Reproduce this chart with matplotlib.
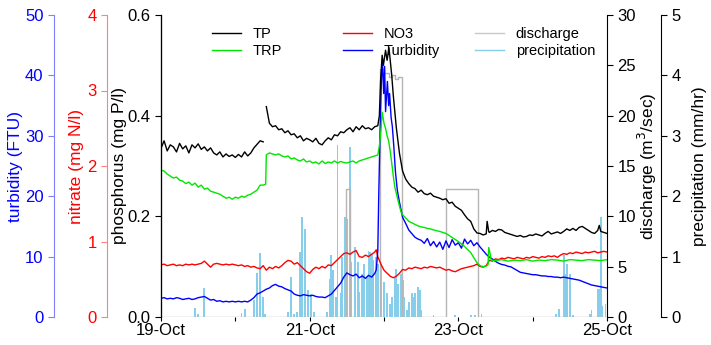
import numpy as np
import matplotlib.pyplot as plt
from matplotlib.lines import Line2D
from matplotlib.legend import Legend

plt.rcParams['font.family'] = ['Liberation Sans', 'DejaVu Sans']

# time axis: hours since 19-Oct 00:00
day_ticks = [0, 24, 48, 72, 96, 120, 144]
day_labels = ['19-Oct', '', '21-Oct', '', '23-Oct', '', '25-Oct']

# total phosphorus (mg P/l)
tp_hours = [0, 1, 2, 3, 4, 5, 6, 7, 8, 9, 10, 11, 12, 13, 14, 15, 16, 17, 18, 19,
            20, 21, 22, 23, 24, 25, 26, 27, 28, 29, 30, 31, 32, 33, 33.5,
            34, 35, 36, 37, 38, 39, 40, 41, 42, 43, 44, 45, 46, 47, 48, 49, 50,
            51, 52, 53, 54, 55, 56, 57, 58, 59, 60, 61, 62, 63, 64, 65, 66, 67,
            68, 69, 70, 70.5, 70.9, 71.4, 71.8, 72.5, 73, 73.6, 74, 74.5, 75, 76,
            77, 78, 79, 80, 81, 82, 83, 84, 85, 86, 87, 88, 89, 90, 91, 92, 93,
            94, 95, 96, 97, 98, 99, 100, 101, 102, 103, 104, 105, 105.3, 105.8,
            106, 107, 108, 109, 110, 111, 112, 113, 114, 115, 116, 117, 118, 119,
            120, 121, 122, 123, 124, 125, 126, 127, 128, 129, 130, 131, 132, 133,
            134, 135, 136, 137, 138, 139, 140, 141, 141.5, 142, 143, 144]
tp = [0.335, 0.350, 0.330, 0.342, 0.338, 0.328, 0.345, 0.334, 0.340, 0.326,
      0.342, 0.336, 0.344, 0.333, 0.338, 0.330, 0.336, 0.326, 0.322, 0.328,
      0.318, 0.324, 0.319, 0.322, 0.317, 0.323, 0.318, 0.328, 0.320, 0.326,
      0.336, 0.343, 0.350, 0.348, np.nan,
      0.418, 0.385, 0.378, 0.380, 0.372, 0.374, 0.366, 0.370, 0.362, 0.364,
      0.356, 0.360, 0.350, 0.355, 0.352, 0.348, 0.355, 0.345, 0.342, 0.350,
      0.356, 0.352, 0.362, 0.360, 0.368, 0.366, 0.372, 0.376, 0.368, 0.378,
      0.372, 0.380, 0.374, 0.376, 0.372, 0.378, 0.380, 0.400, 0.470, 0.520,
      0.500, 0.530, 0.510, 0.535, 0.510, 0.480, 0.440, 0.375, 0.325, 0.290,
      0.274, 0.265, 0.258, 0.255, 0.248, 0.252, 0.245, 0.243, 0.246, 0.240,
      0.238, 0.236, 0.233, 0.235, 0.226, 0.228, 0.220, 0.216, 0.212, 0.203,
      0.195, 0.190, 0.175, 0.167, 0.166, 0.163, 0.165, 0.190, 0.170, 0.168,
      0.172, 0.170, 0.174, 0.173, 0.168, 0.166, 0.164, 0.162, 0.160, 0.162,
      0.159, 0.160, 0.163, 0.162, 0.165, 0.163, 0.161, 0.166, 0.170, 0.165,
      0.167, 0.169, 0.166, 0.170, 0.175, 0.172, 0.176, 0.172, 0.178, 0.180,
      0.176, 0.172, 0.168, 0.166, 0.172, 0.182, 0.170, 0.168, 0.166]

# total reactive phosphorus (mg P/l)
trp_hours = [0, 1, 2, 3, 4, 5, 6, 7, 8, 9, 10, 11, 12, 13, 14, 15, 16, 17, 18,
             19, 20, 21, 22, 23, 24, 25, 26, 27, 28, 29, 30, 31, 32, 33, 33.8,
             34, 35, 36, 37, 38, 39, 40, 41, 42, 43, 44, 45, 46, 47, 48, 49, 50,
             51, 52, 53, 54, 55, 56, 57, 58, 59, 60, 61, 62, 63, 64, 65, 66, 67,
             68, 69, 70, 70.5, 71, 71.4, 72, 72.5, 73, 73.5, 74, 74.5, 75, 75.5,
             76, 76.5, 77, 77.5, 78, 79, 80, 81, 82, 83, 84, 85, 86, 87, 88, 90,
             92, 94, 96, 98, 100, 101, 102, 103, 104, 105, 105.6, 105.8, 106.3,
             106.6, 108, 110, 112, 114, 116, 118, 120, 122, 124, 126, 128, 130,
             132, 134, 136, 138, 140, 142, 144]
trp = [0.292, 0.290, 0.284, 0.280, 0.276, 0.278, 0.272, 0.270, 0.265, 0.268,
       0.262, 0.266, 0.258, 0.262, 0.254, 0.256, 0.250, 0.248, 0.246, 0.244,
       0.240, 0.236, 0.238, 0.234, 0.238, 0.236, 0.240, 0.238, 0.242, 0.244,
       0.248, 0.252, 0.262, 0.262, 0.264,
       0.322, 0.326, 0.324, 0.322, 0.324, 0.320, 0.318, 0.320, 0.314, 0.316,
       0.312, 0.310, 0.314, 0.308, 0.310, 0.306, 0.308, 0.304, 0.310, 0.305,
       0.308, 0.306, 0.310, 0.306, 0.309, 0.307, 0.306, 0.308, 0.310, 0.306,
       0.310, 0.312, 0.314, 0.316, 0.318, 0.320, 0.322, 0.340, 0.370, 0.407,
       0.385, 0.375, 0.360, 0.350, 0.330, 0.306, 0.280, 0.258, 0.245, 0.232,
       0.220, 0.209, 0.203, 0.197, 0.190, 0.187, 0.184, 0.181, 0.179, 0.178,
       0.176, 0.175, 0.173, 0.170, 0.166, 0.158, 0.150, 0.140, 0.128, 0.118,
       0.108, 0.102, 0.100, 0.101, 0.104, 0.138, 0.125, 0.113, 0.112, 0.114,
       0.111, 0.113, 0.112, 0.114, 0.111, 0.113, 0.112, 0.114, 0.113, 0.111,
       0.114, 0.113, 0.112, 0.114, 0.113, 0.112, 0.114]

# nitrate (mg N/l)
no3_hours = [0, 1, 2, 3, 4, 5, 6, 7, 8, 9, 10, 11, 12, 13, 14, 15, 16, 17, 18,
             19, 20, 21, 22, 23, 24, 25, 26, 27, 28, 29, 30, 31, 32, 33, 34, 35,
             36, 37, 38, 39, 40, 41, 42, 43, 44, 45, 46, 47, 48, 49, 50, 51, 52,
             53, 54, 55, 56, 57, 58, 59, 60, 61, 62, 63, 64, 65, 66, 67, 68, 69,
             69.5, 70, 71, 72, 73, 74, 75, 76, 77, 78, 79, 80, 81, 82, 83, 84,
             85, 86, 87, 88, 89, 90, 91, 92, 93, 94, 95, 96, 97, 98, 99, 100,
             101, 102, 103, 104, 105, 106, 107, 108, 109, 110, 111, 112, 113,
             114, 115, 116, 117, 118, 119, 120, 121, 122, 123, 124, 125, 126,
             127, 128, 129, 130, 131, 132, 133, 134, 135, 136, 137, 138, 139,
             140, 141, 142, 143, 144]
no3 = [0.69, 0.70, 0.68, 0.69, 0.70, 0.68, 0.69, 0.68, 0.70, 0.69, 0.70, 0.69,
       0.70, 0.71, 0.74, 0.70, 0.66, 0.70, 0.71, 0.70, 0.69, 0.70, 0.69, 0.70,
       0.69, 0.68, 0.69, 0.67, 0.68, 0.66, 0.67, 0.65, 0.64, 0.68, 0.62, 0.66,
       0.64, 0.67, 0.65, 0.68, 0.72, 0.75, 0.74, 0.70, 0.72, 0.68, 0.64, 0.60,
       0.58, 0.63, 0.66, 0.64, 0.67, 0.65, 0.69, 0.68, 0.72, 0.76, 0.80, 0.84,
       0.85, 0.83, 0.86, 0.88, 0.80, 0.79, 0.82, 0.80, 0.83, 0.86,
       0.89, 0.80, 0.70, 0.62, 0.58, 0.54, 0.52, 0.54, 0.58, 0.63, 0.62, 0.65,
       0.64, 0.66, 0.65, 0.64, 0.66, 0.65, 0.67, 0.66, 0.65, 0.66, 0.64, 0.62,
       0.63, 0.61, 0.60, 0.62, 0.64, 0.65, 0.66, 0.67, 0.68, 0.70, 0.67, 0.66,
       0.68, 0.75, 0.74, 0.77, 0.76, 0.78, 0.77, 0.79, 0.78, 0.77, 0.79, 0.78,
       0.77, 0.79, 0.78, 0.80, 0.79, 0.78, 0.80, 0.79, 0.81, 0.80, 0.81, 0.79,
       0.82, 0.84, 0.83, 0.85, 0.84, 0.86, 0.85, 0.84, 0.86, 0.85, 0.86, 0.87,
       0.85, 0.86, 0.87, 0.86]

# turbidity (FTU)
turb_hours = [0, 1, 2, 3, 4, 5, 6, 7, 8, 9, 10, 11, 12, 13, 14, 15, 16, 17, 18,
              19, 20, 21, 22, 23, 24, 25, 26, 27, 28, 29, 30, 31, 32, 33, 34, 35,
              36, 37, 38, 39, 40, 41, 42, 43, 44, 45, 46, 47, 48, 49, 50, 51, 52,
              53, 54, 55, 56, 57, 58, 59, 60, 61, 62, 63, 64, 65, 66, 67, 68, 69,
              69.5, 70, 70.3, 70.7, 71.2, 71.5, 71.9, 72.2, 72.5, 73.1, 73.5,
              73.8, 74.3, 74.7, 75.2, 75.7, 76.3, 77, 78, 79, 80, 81, 82, 83, 84,
              85, 86, 87, 88, 89, 90, 91, 92, 93, 94, 95, 96, 97, 98, 99, 100,
              101, 102, 103, 104, 105, 106, 107, 108, 109, 110, 111, 112, 113,
              114, 115, 116, 117, 118, 119, 120, 121, 122, 123, 124, 125, 126,
              127, 128, 129, 130, 131, 132, 133, 134, 135, 136, 137, 138, 139,
              140, 141, 142, 143, 144]
turb = [3.1, 3.2, 3.0, 3.1, 3.0, 3.2, 3.1, 2.9, 3.0, 3.1, 2.9, 3.0, 3.2, 3.3,
        3.4, 3.1, 2.8, 2.9, 2.6, 2.7, 2.5, 2.6, 2.5, 2.6, 2.5, 2.6, 2.5, 2.6,
        2.5, 2.8, 3.2, 3.8, 4.0, 4.3, 4.6, 4.8, 5.2, 5.4, 5.1, 5.0, 4.7, 4.5,
        4.3, 3.8, 3.6, 3.5, 3.7, 3.6, 3.5, 3.6, 3.4, 3.3, 3.3, 3.2, 3.5, 3.8,
        4.4, 5.0, 5.6, 6.6, 7.3, 7.0, 6.8, 7.1, 6.5, 6.8, 6.4, 6.9, 6.6, 7.2,
        7.8, 11.0, 20.0, 30.0, 40.0, 42.0, 37.0, 41.5, 34.0, 39.0, 35.0,
        37.0, 33.0, 31.5, 28.0, 24.0, 21.0, 19.0, 16.5, 15.5, 14.4, 13.8, 13.2,
        12.9, 12.7, 12.2, 13.0, 11.8, 12.5, 11.6, 12.4, 11.2, 12.6, 11.5, 12.8,
        11.9, 12.3, 11.4, 12.9, 12.1, 12.7, 11.8, 12.3, 11.6, 11.0, 10.4, 9.9,
        9.6, 9.2, 8.9, 8.7, 8.6, 8.4, 8.3, 8.0, 7.7, 7.4, 7.3, 7.2, 7.1, 7.0,
        7.0, 6.9, 6.8, 6.8, 6.7, 6.7, 6.6, 6.6, 6.5, 6.6, 6.5, 6.4, 6.3, 6.2,
        6.1, 5.9, 5.7, 5.5, 5.3, 5.2, 5.1, 5.0, 4.9, 4.8]

# discharge (m3/sec), stepwise
q_hours = [0, 59.6, 60.9, 70.6, 72.0, 73.5, 74.5, 75.5, 76.5, 77.7, 92.0, 102.4, 144]
q = [0, 12.7, 0, 24.6, 24.2, 23.8, 24.0, 23.6, 23.8, 0, 12.7, 0, 0]

# precipitation (mm/hr), non-zero records only
precip_hours = [11, 12, 14, 26, 27, 30, 31, 32, 33, 33.5,
                41, 42, 43, 44, 45, 45.5, 46.5, 47.5, 48.5, 49.5,
                53.5, 54.5, 55, 55.5, 56.5, 57, 58, 58.5, 59.5, 60, 61, 61.5,
                62.5, 63.5, 64, 65, 65.5, 66.5, 67, 67.5, 68, 68.5, 69.5, 70,
                71, 72, 73, 74, 74.5, 75.5, 76, 76.5, 77.5, 78, 78.5, 79.5, 80,
                81, 81.5, 82, 83, 83.5, 84, 88, 95, 100, 101.5, 103.5,
                127.5, 128.5, 130, 130.5, 131, 132, 133, 138.5, 139, 141,
                141.5, 142, 142.5, 143.5]
precip_mm = [0.15, 0.05, 0.48, 0.07, 0.13, 0.28, 0.73, 1.06, 0.33, 0.05,
             0.08, 0.66, 0.05, 0.08, 1.08, 1.66, 1.46, 0.44, 0.38, 0.08,
             0.08, 0.63, 1.02, 0.77, 0.33, 2.84, 0.39, 0.99, 1.66, 1.63, 2.82,
             0.91, 1.16, 0.91, 0.41, 0.72, 0.88, 0.66, 1.10, 1.08, 1.05, 0.94,
             0.99, 0.88, 0.88, 0.58, 0.40, 0.22, 0.33, 0.66, 0.80, 0.55, 0.72,
             0.61, 0.33, 0.11, 0.25, 0.39, 0.33, 0.39, 0.50, 0.44, 0.11, 0.03,
             0.03, 0.04, 0.03, 0.05, 0.05, 0.14, 1.02, 0.72, 0.88, 0.72, 0.03,
             0.05, 0.11, 0.47, 0.46, 1.66, 0.19, 0.22]

fig = plt.figure(figsize=(7.11, 3.45), dpi=100)
ax = fig.add_axes([161 / 711, 28 / 345, 446 / 711, 302 / 345])
ax_p = ax.twinx()
ax_q = ax.twinx()
ax_n = ax.twinx()
ax_t = ax.twinx()
ax_p.set_zorder(1)
ax_q.set_zorder(2)
ax_n.set_zorder(3)
ax_t.set_zorder(4)
ax.set_zorder(5)
ax.patch.set_visible(False)

ax_p.bar(precip_hours, precip_mm, width=0.6, color='skyblue', linewidth=0)
ax_q.step(q_hours, q, where='post', color='#b5b5b5', lw=1.0)
ax_n.plot(no3_hours, no3, color='red', lw=1.0)
ax_t.plot(turb_hours, turb, color='blue', lw=1.0)
ax.plot(trp_hours, trp, color='#00e600', lw=1.0)
ax.plot(tp_hours, tp, color='black', lw=1.0)

for a in [ax, ax_p, ax_q, ax_n, ax_t]:
    a.spines['top'].set_visible(False)
    a.spines['bottom'].set_visible(False)
    a.set_xlim(0, 144)

# phosphorus (host)
ax.spines['right'].set_visible(False)
ax.set_ylim(0, 0.6)
ax.set_yticks([0, 0.2, 0.4, 0.6])
ax.set_yticklabels(['0.0', '0.2', '0.4', '0.6'])
ax.set_ylabel('phosphorus (mg P/l)', fontsize=12.5, va='center')
ax.yaxis.set_label_coords(-0.092, 0.5)
ax.set_xticks(day_ticks)
ax.set_xticklabels(day_labels)
ax.tick_params(axis='x', length=3, pad=1.5, labelsize=12)
ax.tick_params(axis='y', length=4, labelsize=12)

# nitrate
ax_n.spines['right'].set_visible(False)
ax_n.spines['left'].set_visible(True)
ax_n.spines['left'].set_position(('axes', -0.121))
ax_n.spines['left'].set_color('#ff8080')
ax_n.yaxis.tick_left()
ax_n.yaxis.set_label_position('left')
ax_n.set_ylim(0, 4)
ax_n.set_yticks([0, 1, 2, 3, 4])
ax_n.tick_params(axis='y', length=4, labelsize=12, colors='red')
ax_n.tick_params(axis='y', color='#ff8080')
ax_n.set_ylabel('nitrate (mg N/l)', fontsize=12.5, color='red', va='center')
ax_n.yaxis.set_label_coords(-0.19, 0.5)

# turbidity
ax_t.spines['right'].set_visible(False)
ax_t.spines['left'].set_visible(True)
ax_t.spines['left'].set_position(('axes', -0.24))
ax_t.spines['left'].set_color('#8080ff')
ax_t.yaxis.tick_left()
ax_t.yaxis.set_label_position('left')
ax_t.set_ylim(0, 50)
ax_t.set_yticks([0, 10, 20, 30, 40, 50])
ax_t.tick_params(axis='y', length=4, labelsize=12, colors='blue')
ax_t.tick_params(axis='y', color='#8080ff')
ax_t.set_ylabel('turbidity (FTU)', fontsize=12.5, color='blue', va='center')
ax_t.yaxis.set_label_coords(-0.327, 0.5)

# discharge
ax_q.set_ylim(0, 30)
ax_q.set_yticks([0, 5, 10, 15, 20, 25, 30])
ax_q.tick_params(axis='y', length=4, labelsize=12)
ax_q.set_ylabel('discharge (m$^3$/sec)', fontsize=12.5, va='center')
ax_q.yaxis.set_label_coords(1.09, 0.5)

# precipitation
ax_p.spines['right'].set_position(('axes', 1.121))
ax_p.set_ylim(0, 5)
ax_p.set_yticks([0, 1, 2, 3, 4, 5])
ax_p.tick_params(axis='y', length=4, labelsize=12)
ax_p.set_ylabel('precipitation (mm/hr)', fontsize=12.5, va='center')
ax_p.yaxis.set_label_coords(1.2085, 0.5)

# legend in three separate columns, drawn under the host lines
columns = [
    (0.114, [('black', 'TP'), ('#00e600', 'TRP')]),
    (0.408, [('red', 'NO3'), ('blue', 'Turbidity')]),
    (0.704, [('#c8c8c8', 'discharge'), ('skyblue', 'precipitation')]),
]
for x0, entries in columns:
    handles = [Line2D([], [], color=c, lw=1.0) for c, _ in entries]
    labels = [lab for _, lab in entries]
    leg = Legend(ax, handles, labels, loc='center left', bbox_to_anchor=(x0, 0.909),
                 frameon=False, fontsize=10.5, handlelength=2.0,
                 handletextpad=0.8, labelspacing=0.25, borderpad=0,
                 borderaxespad=0)
    leg.set_zorder(1)
    ax.add_artist(leg)

fig.savefig('out.png', dpi=100, facecolor='white')
